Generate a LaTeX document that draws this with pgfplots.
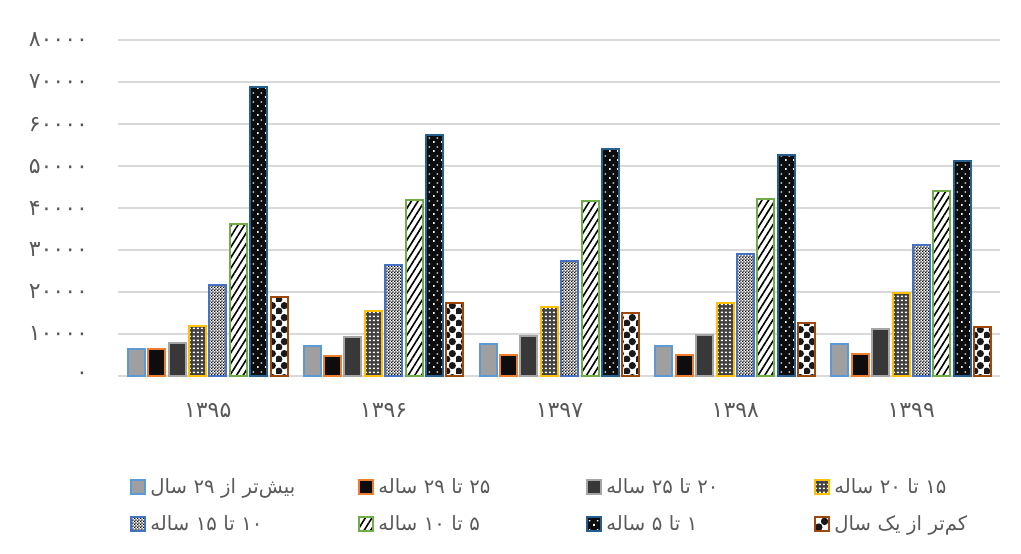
\documentclass[border=0pt]{standalone}
\usepackage{fontspec}
\usepackage{pgfplots}
\pgfplotsset{compat=1.18}
\usetikzlibrary{patterns,patterns.meta}
\TeXXeTstate=1
\newfontfamily\fa[Script=Arabic]{DejaVu Sans}

\definecolor{txt}{HTML}{595959}
\definecolor{gridc}{HTML}{D9D9D9}
\definecolor{cA}{HTML}{5B9BD5}
\definecolor{cB}{HTML}{ED7D31}
\definecolor{cC}{HTML}{A5A5A5}
\definecolor{cD}{HTML}{FFC000}
\definecolor{cE}{HTML}{4472C4}
\definecolor{cF}{HTML}{70AD47}
\definecolor{cG}{HTML}{255E91}
\definecolor{cH}{HTML}{9E480E}

% small white squares on dark ground
\pgfdeclarepatternformonly{smallsq}{\pgfqpoint{0pt}{0pt}}{\pgfqpoint{2.2pt}{2pt}}{\pgfqpoint{2.2pt}{2pt}}{
  \pgfpathrectangle{\pgfqpoint{0.5pt}{0.5pt}}{\pgfqpoint{1.1pt}{0.9pt}}
  \pgfusepath{fill}}
% fine checkerboard
\pgfdeclarepatternformonly{finecheck}{\pgfqpoint{0pt}{0pt}}{\pgfqpoint{1.6pt}{1.6pt}}{\pgfqpoint{1.6pt}{1.6pt}}{
  \pgfpathrectangle{\pgfqpoint{0pt}{0pt}}{\pgfqpoint{0.8pt}{0.8pt}}
  \pgfpathrectangle{\pgfqpoint{0.8pt}{0.8pt}}{\pgfqpoint{0.8pt}{0.8pt}}
  \pgfusepath{fill}}
% sparse dots on black
\pgfdeclarepatternformonly{sparsedots}{\pgfqpoint{0pt}{0pt}}{\pgfqpoint{4pt}{4.4pt}}{\pgfqpoint{4pt}{4.4pt}}{
  \pgfpathrectangle{\pgfqpoint{0.6pt}{0.6pt}}{\pgfqpoint{0.9pt}{0.9pt}}
  \pgfpathrectangle{\pgfqpoint{2.6pt}{2.8pt}}{\pgfqpoint{0.9pt}{0.6pt}}
  \pgfusepath{fill}}
% large round checker
\pgfdeclarepatternformonly{bigcheck}{\pgfqpoint{0pt}{0pt}}{\pgfqpoint{6pt}{6pt}}{\pgfqpoint{6pt}{6pt}}{
  \pgfpathcircle{\pgfqpoint{1.5pt}{1.5pt}}{1.95pt}
  \pgfpathcircle{\pgfqpoint{4.5pt}{4.5pt}}{1.95pt}
  \pgfusepath{fill}}

\begin{document}
\begin{tikzpicture}
% page frame: axis box sits at (0,0)--(441pt,168pt)
\useasboundingbox (-59pt,-88.5pt) rectangle (451.5pt,188pt);
\begin{axis}[
    name=ax,
    at={(0,0)}, anchor=south west,
    scale only axis,
    width=441pt, height=168pt,
    xmin=-0.51, xmax=4.505,
    ymin=0, ymax=80000,
    ybar=1.7pt, bar width=8.5pt,
    xtick={0,1,2,3,4},
    xticklabels={۱۳۹۵,۱۳۹۶,۱۳۹۷,۱۳۹۸,۱۳۹۹},
    ytick={0,10000,20000,30000,40000,50000,60000,70000,80000},
    yticklabels={۰,۱۰۰۰۰,۲۰۰۰۰,۳۰۰۰۰,۴۰۰۰۰,۵۰۰۰۰,۶۰۰۰۰,۷۰۰۰۰,۸۰۰۰۰},
    scaled y ticks=false,
    ymajorgrids=true,
    grid style={gridc, line width=0.8pt},
    axis line style={draw=none},
    major tick length=0pt,
    ticklabel style={font=\fa\fontsize{11}{13}\selectfont, text=txt},
    yticklabel style={xshift=-11.5pt},
    xticklabel style={yshift=-10pt},
    legend columns=4,
    legend cell align=left,
    legend style={draw=none, fill=none, inner sep=0pt,
        at={(0,0)}, anchor=north west, xshift=6pt, yshift=-49pt,
        font=\fa\fontsize{9.8}{12}\selectfont, text=txt, row sep=5.5pt,
        nodes={text width=100pt},
        /tikz/every even column/.append style={column sep=2pt}},
    legend image code/.code={\draw[#1,/tikz/.cd,line width=1pt] (0pt,-3.5pt) rectangle (7pt,3.5pt);},
]
% over 29
\addplot[draw=cA, line width=1pt, fill=cC!90!black!90]
coordinates {(0,6360)(1,7140)(2,7620)(3,7140)(4,7600)};
% 25-29
\addplot[draw=cB, line width=1pt, fill=black!95]
coordinates {(0,6360)(1,4830)(2,4920)(3,5080)(4,5200)};
% 20-25
\addplot[draw=cC, line width=1pt, fill=black!78]
coordinates {(0,7780)(1,9210)(2,9520)(3,9840)(4,11300)};
% 15-20
\addplot[draw=cD, line width=1pt, preaction={fill=black!75}, pattern=smallsq, pattern color=white]
coordinates {(0,11900)(1,15550)(2,16350)(3,17460)(4,19700)};
% 10-15
\addplot[draw=cE, line width=1pt, preaction={fill=white}, pattern=finecheck, pattern color=black]
coordinates {(0,21740)(1,26350)(2,27300)(3,29050)(4,31200)};
% 5-10
\addplot[draw=cF, line width=1pt, preaction={fill=white}, pattern={Lines[angle=58,distance=2.8pt,line width=0.8pt]}, pattern color=black]
coordinates {(0,36190)(1,41900)(2,41750)(3,42220)(4,44000)};
% 1-5
\addplot[draw=cG, line width=1pt, preaction={fill=black!95}, pattern=sparsedots, pattern color=white]
coordinates {(0,68880)(1,57460)(2,54130)(3,52540)(4,51100)};
% under 1
\addplot[draw=cH, line width=1pt, preaction={fill=white}, pattern=bigcheck, pattern color=black!90]
coordinates {(0,18740)(1,17450)(2,14920)(3,12700)(4,11600)};

\legend{\beginR بیش‌تر از ۲۹ سال\endR,
        \beginR ۲۵ تا ۲۹ ساله\endR,
        \beginR ۲۰ تا ۲۵ ساله\endR,
        \beginR ۱۵ تا ۲۰ ساله\endR,
        \beginR ۱۰ تا ۱۵ ساله\endR,
        \beginR ۵ تا ۱۰ ساله\endR,
        \beginR ۱ تا ۵ ساله\endR,
        \beginR کم‌تر از یک سال\endR}
\end{axis}
\end{tikzpicture}
\end{document}
